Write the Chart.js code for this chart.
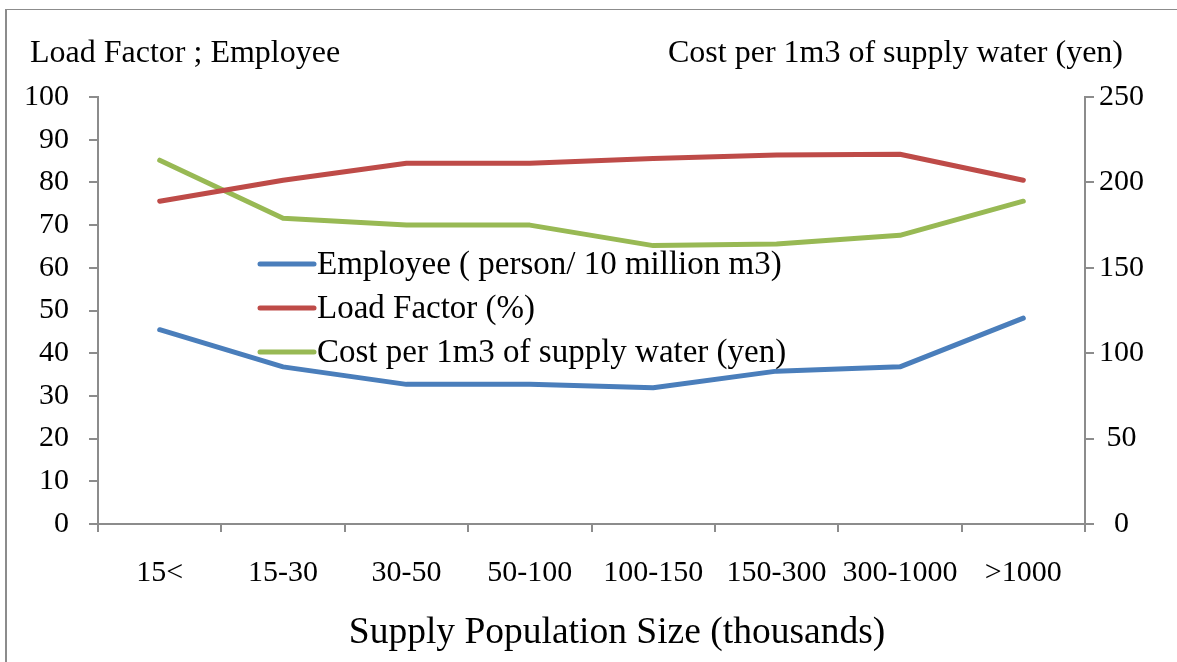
<!DOCTYPE html>
<html lang="en">
<head>
  <meta charset="UTF-8" />
  <title>Supply Population Size chart</title>
  <script src="https://cdn.jsdelivr.net/npm/chart.js"></script>
  <style>
    html, body { margin: 0; padding: 0; background: #fff; overflow: hidden; }
    .frame { position: absolute; left: 5px; top: 9px; width: 1200px; height: 700px;
             border-left: 2px solid #8c8c8c; border-top: 1px solid #8c8c8c; }
    .wrap { position: absolute; left: 0; top: 0; width: 1177px; height: 662px; }
  </style>
</head>
<body>
  <div class="frame"></div>
  <div class="wrap"><canvas id="chart" width="1177" height="662"></canvas></div>

  <script>
    // data
    const categories = ['15<', '15-30', '30-50', '50-100', '100-150', '150-300', '300-1000', '>1000'];
    const employee = [45.5, 36.8, 32.7, 32.7, 31.9, 35.8, 36.8, 48.2];
    const loadFactor = [75.6, 80.5, 84.5, 84.5, 85.6, 86.4, 86.6, 80.5];
    const costPerM3 = [213, 179, 175, 175, 163, 164, 169, 189];
    const leftTicks = [0, 100, 10];
    const rightTicks = [0, 250, 50];

    const serif = '"Liberation Serif", "Times New Roman", serif';
    const axisGray = '#8c8c8c';
    const tickSize = 30;

    // legend drawn inside the plot area, Excel style
    const innerLegend = {
      id: 'innerLegend',
      afterDatasetsDraw(chart) {
        const ctx = chart.ctx;
        ctx.save();
        ctx.font = '33px ' + serif;
        ctx.textBaseline = 'middle';
        chart.data.datasets.forEach((ds, i) => {
          const y = 264 + i * 44;
          ctx.strokeStyle = ds.borderColor;
          ctx.lineWidth = 5;
          ctx.lineCap = 'round';
          ctx.beginPath();
          ctx.moveTo(260, y);
          ctx.lineTo(314, y);
          ctx.stroke();
          ctx.fillStyle = '#000';
          ctx.fillText(ds.label, 317, y + 1);
        });
        ctx.restore();
      }
    };

    // axis titles placed like the original
    const axisTitles = {
      id: 'axisTitles',
      afterDraw(chart) {
        const ctx = chart.ctx;
        ctx.save();
        ctx.fillStyle = '#000';
        ctx.textBaseline = 'alphabetic';
        ctx.font = '32px ' + serif;
        ctx.textAlign = 'left';
        ctx.fillText('Load Factor ; Employee', 30, 62);
        ctx.textAlign = 'right';
        ctx.fillText('Cost per 1m3 of supply water (yen)', 1123, 62);
        ctx.font = '37.5px ' + serif;
        ctx.textAlign = 'center';
        ctx.fillText('Supply Population Size (thousands)', 617, 643);
        ctx.restore();
      }
    };

    const lineStyle = { borderWidth: 5, pointRadius: 0, tension: 0, fill: false, borderCapStyle: 'round', borderJoinStyle: 'round' };

    new Chart(document.getElementById('chart').getContext('2d'), {
      type: 'line',
      data: {
        labels: categories,
        datasets: [
          { label: 'Employee ( person/ 10 million m3)', data: employee, borderColor: '#4a7ebb', yAxisID: 'y', ...lineStyle },
          { label: 'Load Factor (%)', data: loadFactor, borderColor: '#be4b48', yAxisID: 'y', ...lineStyle },
          { label: 'Cost per 1m3 of supply water (yen)', data: costPerM3, borderColor: '#98b954', yAxisID: 'y2', ...lineStyle }
        ]
      },
      options: {
        responsive: false,
        animation: false,
        layout: { padding: { top: 97, left: 0, right: 0, bottom: 0 } },
        plugins: { legend: { display: false }, tooltip: { enabled: false } },
        scales: {
          x: {
            offset: true,
            grid: { display: true, offset: true, drawOnChartArea: false, drawTicks: true, tickLength: 8, color: axisGray, lineWidth: 2 },
            border: { display: true, color: axisGray, width: 2 },
            ticks: { color: '#000', font: { family: serif, size: tickSize }, padding: 23, maxRotation: 0, autoSkip: false },
            afterFit(s) { s.height = 138; }
          },
          y: {
            position: 'left',
            min: leftTicks[0], max: leftTicks[1],
            grid: { display: true, drawOnChartArea: false, drawTicks: true, tickLength: 9, color: axisGray, lineWidth: 2 },
            border: { display: true, color: axisGray, width: 2 },
            ticks: { stepSize: leftTicks[2], color: '#000', font: { family: serif, size: tickSize }, padding: 20 },
            afterFit(s) { s.width = 98; }
          },
          y2: {
            position: 'right',
            min: rightTicks[0], max: rightTicks[1],
            grid: { display: true, drawOnChartArea: false, drawTicks: true, tickLength: 9, color: axisGray, lineWidth: 2 },
            border: { display: true, color: axisGray, width: 2 },
            ticks: { stepSize: rightTicks[2], color: '#000', font: { family: serif, size: tickSize }, padding: 5, crossAlign: 'center' },
            afterFit(s) { s.width = 92; }
          }
        }
      },
      plugins: [innerLegend, axisTitles]
    });
  </script>
</body>
</html>
